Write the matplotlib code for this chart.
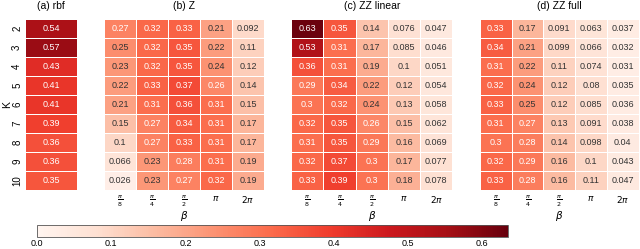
import numpy as np
import matplotlib
matplotlib.use("Agg")
import matplotlib.pyplot as plt
import seaborn as sns

plt.rcParams['font.family'] = ['Liberation Sans', 'DejaVu Sans']

K_labels = ["2", "3", "4", "5", "6", "7", "8", "9", "10"]
beta_labels = [r"$\frac{\pi}{8}$", r"$\frac{\pi}{4}$", r"$\frac{\pi}{2}$", r"$\pi$", r"$2\pi$"]

rbf = [0.54, 0.57, 0.43, 0.41, 0.41, 0.39, 0.36, 0.36, 0.35]

Z = [
    [0.27, 0.32, 0.33, 0.21, 0.092],
    [0.25, 0.32, 0.35, 0.22, 0.11],
    [0.23, 0.32, 0.35, 0.24, 0.12],
    [0.22, 0.33, 0.37, 0.26, 0.14],
    [0.21, 0.31, 0.36, 0.31, 0.15],
    [0.15, 0.27, 0.34, 0.31, 0.17],
    [0.1, 0.27, 0.33, 0.31, 0.17],
    [0.066, 0.23, 0.28, 0.31, 0.19],
    [0.026, 0.23, 0.27, 0.32, 0.19],
]

ZZ_linear = [
    [0.63, 0.35, 0.14, 0.076, 0.047],
    [0.53, 0.31, 0.17, 0.085, 0.046],
    [0.36, 0.31, 0.19, 0.1, 0.051],
    [0.29, 0.34, 0.22, 0.12, 0.054],
    [0.3, 0.32, 0.24, 0.13, 0.058],
    [0.32, 0.35, 0.26, 0.15, 0.062],
    [0.31, 0.35, 0.29, 0.16, 0.069],
    [0.32, 0.37, 0.3, 0.17, 0.077],
    [0.33, 0.39, 0.3, 0.18, 0.078],
]

ZZ_full = [
    [0.33, 0.17, 0.091, 0.063, 0.037],
    [0.34, 0.21, 0.099, 0.066, 0.032],
    [0.31, 0.22, 0.11, 0.074, 0.031],
    [0.32, 0.24, 0.12, 0.08, 0.035],
    [0.33, 0.25, 0.12, 0.085, 0.036],
    [0.31, 0.27, 0.13, 0.091, 0.038],
    [0.3, 0.28, 0.14, 0.098, 0.04],
    [0.32, 0.29, 0.16, 0.1, 0.043],
    [0.33, 0.28, 0.16, 0.11, 0.047],
]

titles = ["(a) rbf", "(b) Z", "(c) ZZ linear", "(d) ZZ full"]
vmin, vmax = 0.0, 0.635
text_threshold = 0.255

fig = plt.figure(figsize=(6.4, 2.49), dpi=100)
bottom, top = 0.237, 0.924
h = top - bottom
positions = [(0.0390, 0.082), (0.1625, 0.25), (0.455, 0.252), (0.75, 0.248)]
axes = [fig.add_axes([l, bottom, w, h]) for l, w in positions]
cax = fig.add_axes([0.058, 0.048, 0.736, 0.048])

datasets = [np.array(rbf).reshape(-1, 1), np.array(Z), np.array(ZZ_linear), np.array(ZZ_full)]
for i, (ax, d) in enumerate(zip(axes, datasets)):
    sns.heatmap(d, ax=ax, cmap="Reds", vmin=vmin, vmax=vmax, annot=True, fmt=".2g",
                annot_kws={"fontsize": 6.5}, linewidths=0.6, linecolor="white",
                cbar=(i == 0), cbar_ax=cax if i == 0 else None,
                cbar_kws={"orientation": "horizontal"} if i == 0 else None)
    vals = d.flatten()
    for t, v in zip(ax.texts, vals):
        t.set_color("white" if v >= text_threshold else "#333333")
    ax.set_title(titles[i], fontsize=7.5, pad=7)
    ax.tick_params(length=0)
    if i == 0:
        ax.set_yticks(np.arange(len(K_labels)) + 0.5)
        ax.set_yticklabels(K_labels, rotation=90, fontsize=7, va="center")
        ax.tick_params(axis="y", pad=2)
        ax.set_ylabel("K", fontsize=7.5, labelpad=0)
        ax.set_xticks([])
    else:
        ax.set_yticks([])
        ax.set_xticks(np.arange(len(beta_labels)) + 0.5)
        ax.set_xticklabels(beta_labels, fontsize=6.5)
        ax.tick_params(axis="x", pad=3)
        ax.set_xlabel(r"$\beta$", fontsize=7.5, labelpad=0)

cax.tick_params(labelsize=6.5, length=0, pad=1.5)
cb = axes[0].collections[0].colorbar
cb.set_ticks([0.0, 0.1, 0.2, 0.3, 0.4, 0.5, 0.6])
cb.outline.set_visible(True)
cb.outline.set_linewidth(0.6)
cb.outline.set_edgecolor("#555555")

fig.savefig("out.png", dpi=100)
